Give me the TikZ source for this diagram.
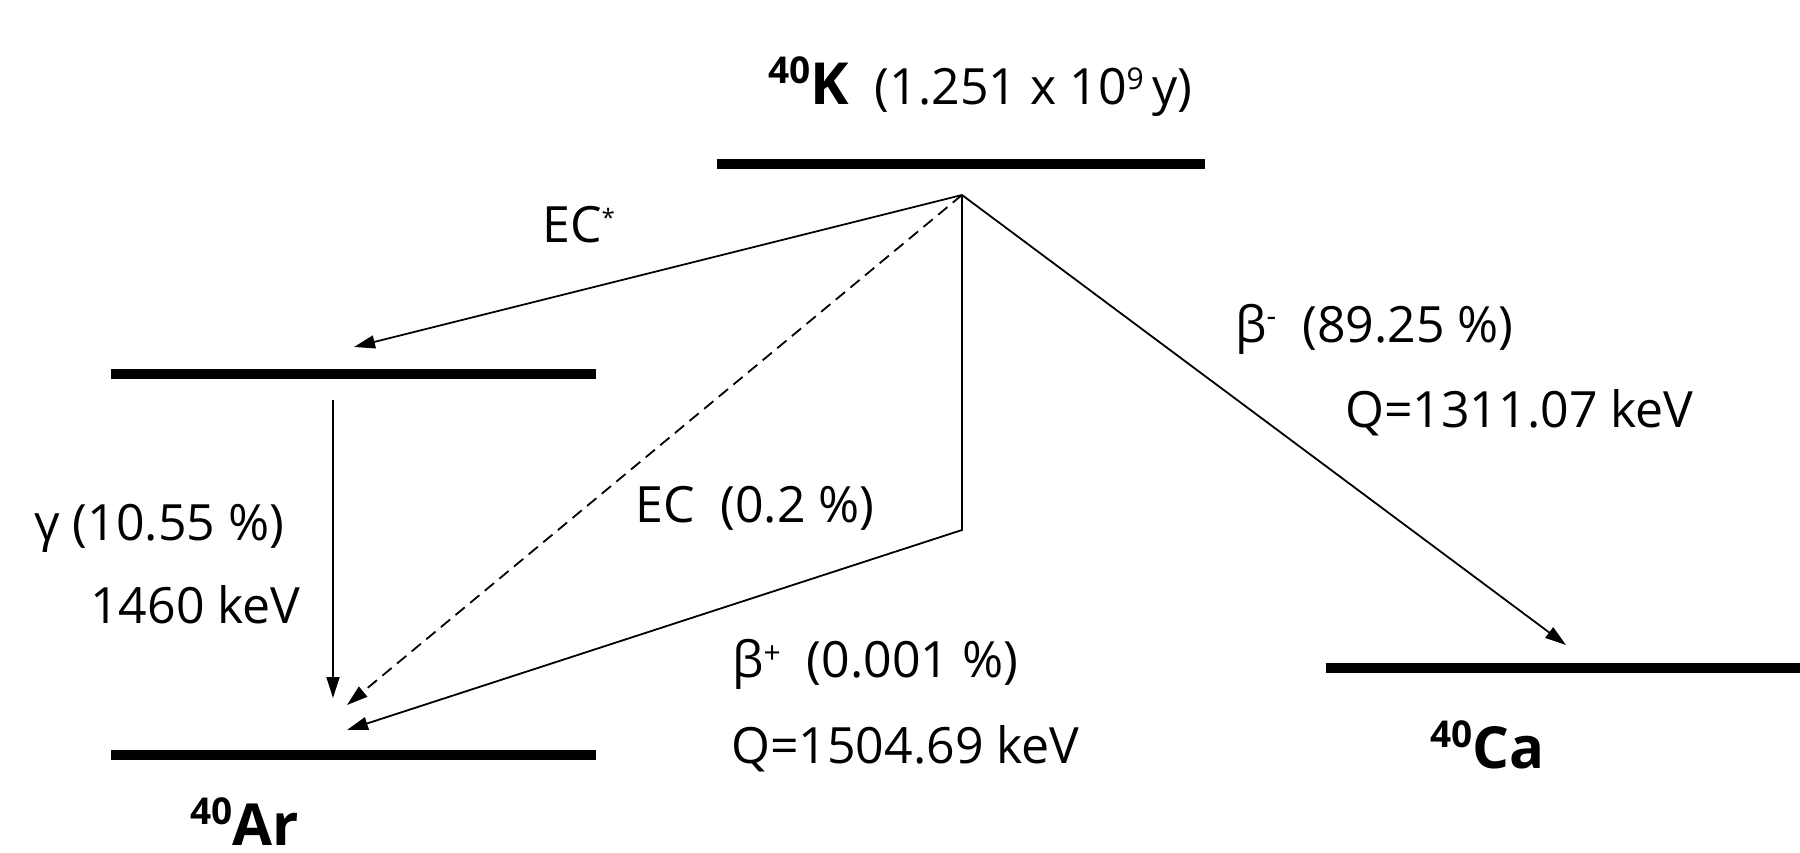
\documentclass[tikz,border=0pt]{standalone}
\usepackage{fontspec}
\setmainfont{Open Sans}
\usetikzlibrary{arrows.meta}
\newcommand\upsc[3]{\raisebox{#1}{\fontsize{#2}{#2}\selectfont #3}}
\newcommand\nucsup[1]{\raisebox{21pt}{\fontsize{37}{37}\selectfont\bfseries #1}}
\begin{document}
\begin{tikzpicture}[x=1pt,y=-1pt,
  level/.style={line width=10pt},
  arr/.style={line width=1.8pt,-{Triangle[length=21pt,width=13pt]}},
  dsh/.style={arr,dash pattern=on 12pt off 7pt},
  lbl/.style={anchor=base west,inner sep=0pt,font=\fontsize{50}{50}\selectfont},
  nuc/.style={anchor=base west,inner sep=0pt,font=\fontsize{58}{58}\selectfont\bfseries}]
\useasboundingbox (0,0) rectangle (1800,853);
% levels
\coordinate (K1) at (717,164);  \coordinate (K2) at (1205,164);
\coordinate (A1) at (111,374);  \coordinate (A2) at (596,374);
\coordinate (G1) at (111,755);  \coordinate (G2) at (596,755);
\coordinate (C1) at (1326,668); \coordinate (C2) at (1800,668);
\draw[level] (K1) -- (K2);
\draw[level] (A1) -- (A2);
\draw[level] (G1) -- (G2);
\draw[level] (C1) -- (C2);
% connector points
\coordinate (apex) at (962,195);
\coordinate (ecs) at (354,347);
\coordinate (gtop) at (333,400);
\coordinate (gbot) at (333,698);
\coordinate (ectip) at (347,705);
\coordinate (bpc) at (962,530);
\coordinate (bptip) at (347,730);
\coordinate (bmtip) at (1566,645);
\draw[arr] (apex) -- (ecs);
\draw[arr] (gtop) -- (gbot);
\draw[dsh] (apex) -- (ectip);
\draw[arr] (apex) -- (bpc) -- (bptip);
\draw[arr] (apex) -- (bmtip);
% labels
\node[nuc] (kl) at (768,105) {\nucsup{40}K\fontsize{50}{50}\selectfont\mdseries\ \ (1.251 x 10\upsc{15pt}{30}{9}\,y)};
\node[lbl] (ecsl) at (542,243) {EC\upsc{16pt}{24}{*}};
\node[lbl] (bml) at (1235,342) {β\upsc{16pt}{30}{-}\ \ (89.25 \%)};
\node[lbl] (bmq) at (1345,427) {Q=1311.07 keV};
\node[lbl] (ecl) at (635,522) {EC\ \ (0.2 \%)};
\node[lbl] (gl) at (34,540) {γ (10.55 \%)};
\node[lbl] (ge) at (90,623) {1460 keV};
\node[lbl] (bpl) at (732,677) {β\upsc{14pt}{30}{+}\ \ (0.001 \%)};
\node[lbl] (bpq) at (731,763) {Q=1504.69 keV};
\node[nuc] (cal) at (1430,768) {\nucsup{40}Ca};
\node[nuc] (arl) at (190,845) {\nucsup{40}Ar};
\end{tikzpicture}
\end{document}
